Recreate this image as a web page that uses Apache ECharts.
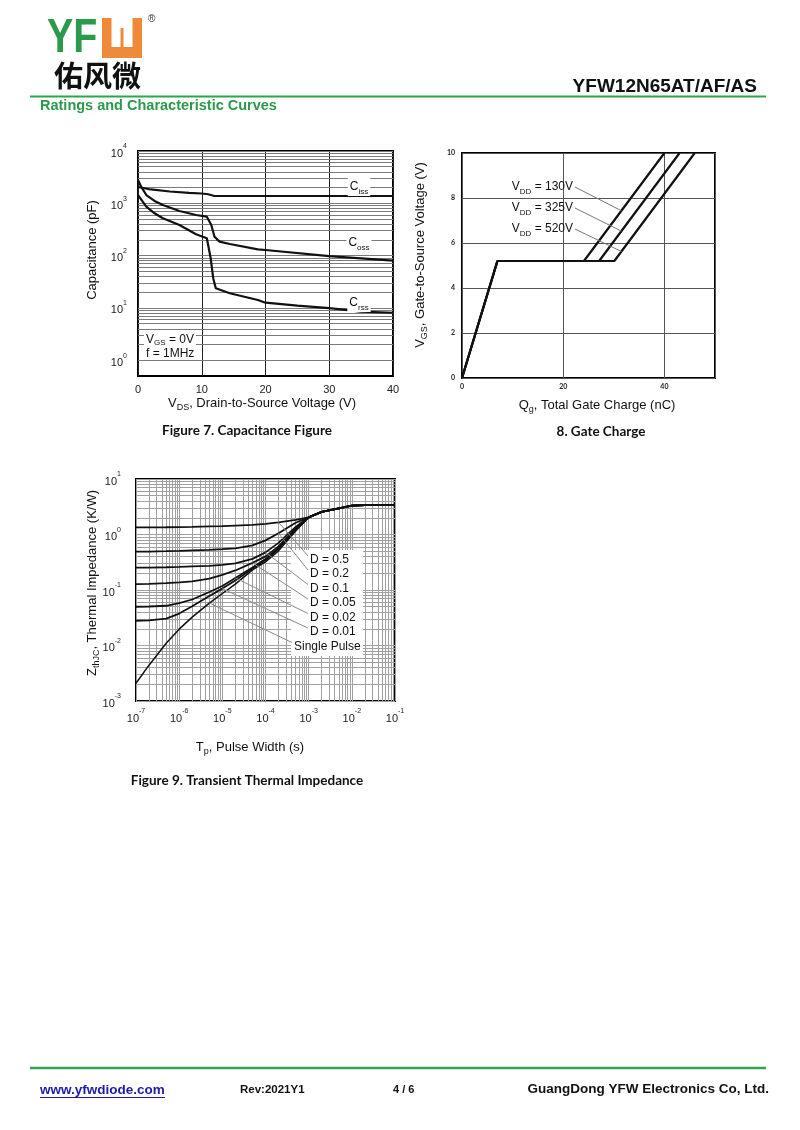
<!DOCTYPE html>
<html><head><meta charset="utf-8">
<script src="https://cdn.jsdelivr.net/npm/echarts@6/dist/echarts.min.js"></script>
<style>html,body{margin:0;padding:0;background:#fff}#c{width:800px;height:1130px}</style>
</head><body><div id="c"></div>
<script>
// ---------- Figure 7: Capacitance (pF) vs VDS (V) ----------
const cissV = [0, 2, 5, 8, 10, 11, 12, 20, 30, 40];
const cissC = [2050, 1840, 1680, 1590, 1540, 1490, 1380, 1380, 1380, 1380];
const cossV = [0, 0.5, 1.3, 2.6, 3.9, 6.5, 9.1, 10.8, 11.5, 12.0, 12.8, 14.4, 18.8, 20, 30, 40];
const cossC = [2790, 2080, 1440, 1110, 930, 713, 598, 556, 385, 230, 185, 167, 132, 128, 98, 80];
const crssV = [0, 1.3, 2.6, 3.9, 6.5, 9.1, 10.8, 11.1, 11.4, 11.8, 12.2, 14.4, 18.8, 20, 25, 30, 35, 40];
const crssC = [1440, 863, 644, 517, 385, 256, 215, 200, 89, 37, 23.8, 19.1, 14.2, 12.6, 11.1, 9.9, 8.5, 8.1];

// ---------- Figure 8: Gate charge ----------
const qg130 = [0, 7.0, 24.1, 40.0];
const vgs130 = [0, 5.2, 5.2, 10];
const qg325 = [0, 7.0, 27.1, 43.0];
const vgs325 = [0, 5.2, 5.2, 10];
const qg520 = [0, 7.0, 30.1, 46.0];
const vgs520 = [0, 5.2, 5.2, 10];
const gateLabels = ['130V', '325V', '520V'];

// ---------- Figure 9: Transient thermal impedance ----------
const tp = [1e-7, 2e-7, 5e-7, 1e-6, 2e-6, 5e-6, 1e-5, 2e-5, 5e-5, 1e-4, 2e-4, 5e-4, 1e-3, 2e-3, 5e-3, 1e-2, 2e-2, 5e-2, 1e-1];
const zD05   = [1.34, 1.34, 1.35, 1.36, 1.37, 1.40, 1.41, 1.45, 1.49, 1.56, 1.66, 1.84, 2.04, 2.56, 2.97, 3.30, 3.37, 3.43, 3.43];
const zD02   = [0.492, 0.493, 0.500, 0.507, 0.518, 0.528, 0.544, 0.562, 0.637, 0.784, 1.05, 1.63, 2.04, 2.56, 2.97, 3.30, 3.37, 3.43, 3.43];
const zD01   = [0.253, 0.254, 0.257, 0.261, 0.266, 0.272, 0.283, 0.301, 0.363, 0.476, 0.706, 1.37, 2.04, 2.56, 2.97, 3.30, 3.37, 3.43, 3.43];
const zD005  = [0.128, 0.129, 0.133, 0.137, 0.143, 0.161, 0.187, 0.225, 0.308, 0.403, 0.611, 1.26, 2.04, 2.56, 2.97, 3.30, 3.37, 3.43, 3.43];
const zD002  = [0.0499, 0.0504, 0.052, 0.0578, 0.0674, 0.092, 0.118, 0.165, 0.255, 0.363, 0.574, 1.24, 2.04, 2.56, 2.97, 3.30, 3.37, 3.43, 3.43];
const zD001  = [0.0279, 0.0283, 0.0305, 0.0376, 0.0509, 0.078, 0.106, 0.149, 0.244, 0.348, 0.551, 1.21, 2.04, 2.56, 2.97, 3.30, 3.37, 3.43, 3.43];
const zSingle= [0.00209, 0.00442, 0.0110, 0.0197, 0.0325, 0.0582, 0.0865, 0.128, 0.230, 0.321, 0.507, 1.16, 2.04, 2.56, 2.97, 3.30, 3.37, 3.43, 3.43];
const dutyLabels = ['D = 0.5', 'D = 0.2', 'D = 0.1', 'D = 0.05', 'D = 0.02', 'D = 0.01', 'Single Pulse'];
// index in tp where each leader line touches its curve
const leaderIdx = [10, 10, 9, 8, 7, 6, 5];

// ---------- helpers ----------
const FONT = '"Liberation Sans", Arial, sans-serif';
const zip = (xs, ys) => xs.map((x, i) => [x, ys[i]]);
function powFmt(v) {
  const e = Math.log10(v), r = Math.round(e);
  if (Math.abs(e - r) > 1e-6) return '';
  return '{b|10}{s|' + (r < 0 ? '-' + (-r) : r) + '}';
}
const powRich = {
  b: {fontSize: 11, fontFamily: FONT, color: '#222', lineHeight: 16, verticalAlign: 'bottom'},
  s: {fontSize: 7, fontFamily: FONT, color: '#222', lineHeight: 16, verticalAlign: 'top'}
};
function decadeGrid(eMin, eMax) {
  const out = [];
  for (let e = eMin; e <= eMax; e++) for (let k = 1; k <= 9; k++) out.push(+(k * Math.pow(10, e)).toPrecision(3));
  out.push(Math.pow(10, eMax + 1));
  return out;
}
const noAxisLine = {show: false};
const noTick = {show: false};
const curve = (xi, data, w) => ({
  type: 'line', xAxisIndex: xi, yAxisIndex: xi, data: data, symbol: 'none', z: 3,
  lineStyle: {color: '#111', width: w}, silent: true
});

const chart = echarts.init(document.getElementById('c'));

const option = {
  animation: false,
  backgroundColor: '#fff',
  grid: [
    {left: 138, top: 151, width: 255, height: 225, show: true, borderColor: '#000', borderWidth: 2, outerBoundsMode: 'none', containLabel: false},
    {left: 462, top: 153, width: 253, height: 225, show: true, borderColor: '#000', borderWidth: 2, outerBoundsMode: 'none', containLabel: false},
    {left: 136, top: 479, width: 259, height: 222, show: true, borderColor: '#000', borderWidth: 2, outerBoundsMode: 'none', containLabel: false}
  ],
  xAxis: [
    {type: 'value', gridIndex: 0, min: 0, max: 40, interval: 10, axisLine: noAxisLine, axisTick: noTick,
     axisLabel: {margin: 8, fontSize: 11, color: '#222', fontFamily: FONT},
     splitLine: {show: true, lineStyle: {color: '#222', width: 1}}},
    {type: 'value', gridIndex: 1, min: 0, max: 50, interval: 20, axisLine: noAxisLine, axisTick: noTick,
     axisLabel: {margin: 5, fontSize: 7, fontWeight: 'bold', color: '#222', fontFamily: 'Lato', showMaxLabel: false},
     splitLine: {show: true, lineStyle: {color: '#555', width: 1}}},
    {type: 'log', gridIndex: 2, min: 1e-7, max: 0.1, logBase: 10, axisLine: noAxisLine, axisTick: noTick,
     axisLabel: {margin: 7, formatter: powFmt, rich: powRich}, splitLine: {show: false}}
  ],
  yAxis: [
    {type: 'log', gridIndex: 0, min: 0.5, max: 10000, logBase: 10, axisLine: noAxisLine, axisTick: noTick,
     axisLabel: {margin: 11, formatter: powFmt, rich: powRich}, splitLine: {show: false}},
    {type: 'value', gridIndex: 1, min: 0, max: 10, interval: 2, axisLine: noAxisLine, axisTick: noTick,
     axisLabel: {margin: 7, fontSize: 7, fontWeight: 'bold', color: '#222', fontFamily: 'Lato'},
     splitLine: {show: true, lineStyle: {color: '#555', width: 1}}},
    {type: 'log', gridIndex: 2, min: 1e-3, max: 10, logBase: 10, axisLine: noAxisLine, axisTick: noTick,
     axisLabel: {margin: 15, formatter: powFmt, rich: powRich}, splitLine: {show: false}}
  ],
  series: [
    // grid lines for figure 7 (horizontal log lines)
    {type: 'line', xAxisIndex: 0, yAxisIndex: 0, data: [], silent: true,
     markLine: {silent: true, z: 1, precision: 12, symbol: ['none', 'none'], label: {show: false},
       lineStyle: {color: '#7a7a7a', width: 1, type: 'solid'},
       data: decadeGrid(0, 3).map(v => ({yAxis: v}))}},
    // grid lines for figure 9
    {type: 'line', xAxisIndex: 2, yAxisIndex: 2, data: [], silent: true,
     markLine: {silent: true, z: 1, precision: 12, symbol: ['none', 'none'], label: {show: false},
       lineStyle: {color: '#a0a0a0', width: 1, type: 'solid'},
       data: decadeGrid(-7, -2).map(v => ({xAxis: v})).concat(decadeGrid(-3, 0).map(v => ({yAxis: v})))}},
    curve(0, zip(cissV, cissC), 2.2),
    curve(0, zip(cossV, cossC), 2.2),
    curve(0, zip(crssV, crssC), 2.2),
    curve(1, zip(qg130, vgs130), 2.2),
    curve(1, zip(qg325, vgs325), 2.2),
    curve(1, zip(qg520, vgs520), 2.2),
    curve(2, zip(tp, zD05), 1.8),
    curve(2, zip(tp, zD02), 1.8),
    curve(2, zip(tp, zD01), 1.8),
    curve(2, zip(tp, zD005), 1.8),
    curve(2, zip(tp, zD002), 1.8),
    curve(2, zip(tp, zD001), 1.8),
    curve(2, zip(tp, zSingle), 1.5)
  ]
};
chart.setOption(option);

// ---------- annotations / page text ----------
const G = [];
const txt = (text, x, y, font, fill, align, extra) => Object.assign({
  type: 'text', x: x, y: y, z: 10,
  style: {text: text, font: font, fill: fill || '#111', align: align || 'left', verticalAlign: 'middle'}
}, extra || {});
const subRich = (size, lh) => ({
  a: {fontSize: size, fontFamily: FONT, fill: '#111', lineHeight: lh, verticalAlign: 'middle'},
  b: {fontSize: Math.round(size * 0.68), fontFamily: FONT, fill: '#111', lineHeight: lh, verticalAlign: 'bottom'}
});
function richTxt(text, x, y, size, align, rot, bg, lh) {
  const el = {type: 'text', x: x, y: y, z: 10, rotation: rot || 0,
    style: {text: text, rich: subRich(size, lh || size + 6), align: align || 'center', verticalAlign: 'middle', font: size + 'px ' + FONT}};
  if (bg) { el.style.backgroundColor = '#fff'; el.style.padding = [0, 2]; }
  return el;
}

// header
G.push({type: 'text', x: 47, y: 15, z: 10, scaleX: 0.82,
  style: {text: 'YF', font: 'bold 48px ' + FONT, fill: '#2a9a4b', align: 'left', verticalAlign: 'top'}});
G.push({type: 'rect', z: 10, shape: {x: 102, y: 18, width: 40, height: 40}, style: {fill: '#ee8a3a'}});
G.push({type: 'rect', z: 11, shape: {x: 111.5, y: 17, width: 21, height: 30}, style: {fill: '#fff'}});
G.push({type: 'rect', z: 12, shape: {x: 120.5, y: 28, width: 3, height: 19}, style: {fill: '#ee8a3a'}});
G.push(txt('®', 148, 19, '10px ' + FONT, '#333'));
G.push(txt('佑风微', 54, 76, 'bold 29px "Noto Sans CJK SC"', '#111'));
G.push(txt('YFW12N65AT/AF/AS', 757, 87, 'bold 19px ' + FONT, '#111', 'right'));
G.push({type: 'line', z: 10, shape: {x1: 30, y1: 96.5, x2: 766, y2: 96.5}, style: {stroke: '#2da44e', lineWidth: 2}});
G.push(txt('Ratings and Characteristic Curves', 40, 106, 'bold 14.5px ' + FONT, '#2a9a4b'));

// footer
G.push({type: 'line', z: 10, shape: {x1: 30, y1: 1068, x2: 766, y2: 1068}, style: {stroke: '#2da44e', lineWidth: 2.5}});
G.push(txt('www.yfwdiode.com', 40, 1090, 'bold 13.5px ' + FONT, '#1c1ca8'));
G.push({type: 'line', z: 10, shape: {x1: 40, y1: 1097.5, x2: 165, y2: 1097.5}, style: {stroke: '#1c1ca8', lineWidth: 1}});
G.push(txt('Rev:2021Y1', 240, 1090, 'bold 11.5px ' + FONT, '#111'));
G.push(txt('4 / 6', 393, 1090, 'bold 11px ' + FONT, '#111'));
G.push(txt('GuangDong YFW Electronics Co, Ltd.', 769, 1089, 'bold 13.5px ' + FONT, '#111', 'right'));

// Figure 7 texts
G.push(richTxt('{a|Capacitance (pF)}', 92, 250, 13, 'center', Math.PI / 2));
G.push(richTxt('{a|V}{b|DS}{a|, Drain-to-Source Voltage (V)}', 262, 403, 13));
G.push(richTxt('{a|C}{b|iss}', 359, 187, 12, 'center', 0, true));
G.push(richTxt('{a|C}{b|oss}', 359, 243, 12, 'center', 0, true));
G.push(richTxt('{a|C}{b|rss}', 359, 303, 12, 'center', 0, true));
G.push(richTxt('{a|f = 1MHz}', 144, 353.5, 12, 'left', 0, true, 13));
G.push(Object.assign(richTxt('{a|V}{b|GS}{a| = 0V}', 144, 339.5, 12, 'left', 0, true, 15), {z: 11}));
G.push(txt('Figure 7. Capacitance Figure', 247, 431, 'bold 13.5px Lato', '#111', 'center'));

// Figure 8 texts
G.push(richTxt('{a|V}{b|GS}{a|, Gate-to-Source Voltage (V)}', 420, 255, 13, 'center', Math.PI / 2));
G.push(richTxt('{a|Q}{b|g}{a|, Total Gate Charge (nC)}', 597, 405, 13));
G.push(txt('8. Gate Charge', 601, 432, 'bold 13.5px Lato', '#111', 'center'));
const gateQ = [qg130, qg325, qg520], gateV = [vgs130, vgs325, vgs520];
const gateLabY = [187, 208, 229];
gateLabels.forEach((lab, i) => {
  G.push(richTxt('{a|V}{b|DD}{a| = ' + lab + '}', 573, gateLabY[i], 12, 'right'));
  // leader end on the rising part of the curve at Qg = 31.5 nC
  const q = gateQ[i], v = gateV[i];
  const qEnd = 31.5;
  const vEnd = v[2] + (qEnd - q[2]) / (q[3] - q[2]) * (v[3] - v[2]);
  const p = chart.convertToPixel({gridIndex: 1}, [qEnd, vEnd]);
  G.push({type: 'line', z: 9, shape: {x1: 575, y1: gateLabY[i], x2: p[0], y2: p[1]}, style: {stroke: '#777', lineWidth: 1}});
});

// Figure 9 texts
G.push(richTxt('{a|Z}{b|thJC}{a|, Thermal Impedance (K/W)}', 92, 583, 13, 'center', Math.PI / 2));
G.push(richTxt('{a|T}{b|p}{a|, Pulse Width (s)}', 250, 747, 13));
G.push(txt('Figure 9. Transient Thermal Impedance', 247, 781, 'bold 13.5px Lato', '#111', 'center'));
G.push({type: 'rect', z: 5, shape: {x: 291, y: 550, width: 72, height: 106}, style: {fill: '#fff'}});
const dutyCurves = [zD05, zD02, zD01, zD005, zD002, zD001, zSingle];
const dutyLabY = [560, 574, 588.5, 603, 617.5, 632, 646.5];
dutyLabels.forEach((lab, i) => {
  const lx = i === 6 ? 294 : 310;
  G.push(txt(lab, lx, dutyLabY[i], '12px ' + FONT, '#111', 'left'));
  const k = leaderIdx[i];
  const p = chart.convertToPixel({gridIndex: 2}, [tp[k], dutyCurves[i][k]]);
  G.push({type: 'line', z: 9, shape: {x1: lx - 2, y1: dutyLabY[i] - 4, x2: p[0], y2: p[1]}, style: {stroke: '#8a8a8a', lineWidth: 1}});
});

chart.setOption({graphic: {elements: G}});
</script>
</body></html>
